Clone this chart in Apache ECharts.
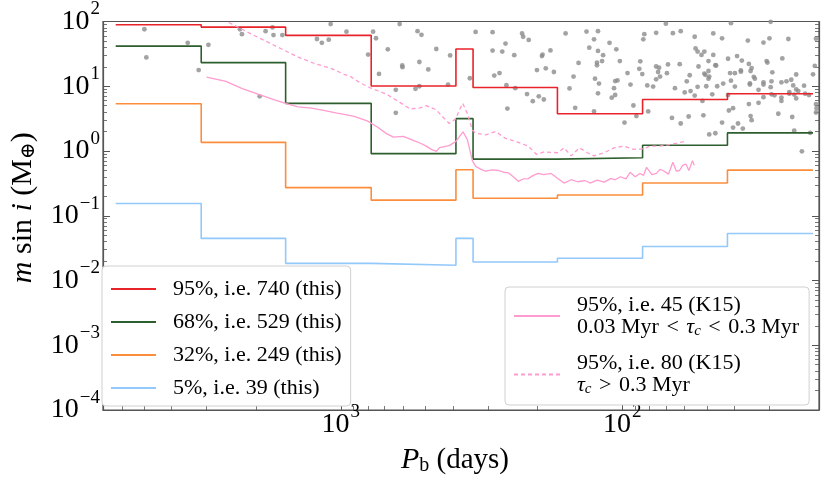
<!DOCTYPE html>
<html><head><meta charset="utf-8">
<script src="https://cdn.jsdelivr.net/npm/echarts@6/dist/echarts.min.js"></script>
<style>html,body{margin:0;padding:0;background:#fff}#c{width:830px;height:481px}</style>
</head><body><div id="c"></div>
<script>
// Bin edges of the step curves (orbital period, days)
const binEdges = [6310, 3134, 1571, 780, 390, 339, 170, 84.7, 42.3, 21.0];
// Upper limits (m sin i, Earth masses) per bin
const lim95 = [89, 82, 61, 10.1, 37.6, 9.55, 3.76, 6.24, 7.67];
const lim68 = [41.7, 23.2, 5.43, 0.91, 3.16, 0.75, 0.785, 1.23, 1.905];
const lim32 = [5.37, 1.36, 0.272, 0.174, 0.513, 0.186, 0.209, 0.32, 0.507];
const lim05 = [0.155, 0.0447, 0.0184, 0.0172, 0.0447, 0.0193, 0.0221, 0.0335, 0.0531];

// K15 curves [P (days), m sin i]
const k15Young = [[3000,13.8],[2560,11.9],[2240,9.2],[1960,7.5],[1710,6.1],[1560,5.4],[1420,4.8],[1270,4.6],[1140,4.2],[1030,3.85],[973,3.67],[897,3.42],[806,2.92],[744,2.37],[686,1.84],[650,1.64],[600,1.68],[553,1.46],[524,1.33],[497,1.19],[477,1.06],[458,0.99],[446,1.13],[412,1.21],[390,1.41],[375,1.78],[368,1.97],[355,1.49],[341,0.71],[332,0.58],[318,0.52],[306,0.49],[290,0.51],[275,0.50],[264,0.47],[254,0.46],[244,0.40],[234,0.34],[225,0.37],[216,0.375],[207,0.42],[199,0.45],[190,0.43],[179,0.45],[170,0.38],[161,0.32],[152,0.36],[144,0.335],[136,0.35],[129.5,0.32],[126,0.34],[122.7,0.355],[116,0.33],[110,0.375],[106,0.36],[101.6,0.40],[97,0.37],[93.8,0.47],[90,0.40],[86.5,0.45],[84,0.42],[82,0.56],[78.5,0.43],[75.6,0.45],[73.5,0.52],[71.7,0.50],[68.5,0.44],[66.1,0.67],[64.3,0.49],[62.6,0.50],[61,0.60],[59.4,0.63],[58,0.50],[56.3,0.71],[55.5,0.60]];
const k15Old = [[2500,96.6],[2120,66.7],[1855,50.1],[1623,37.6],[1418,28.2],[1239,22.4],[1084,18.9],[973,15.3],[923,14.1],[851,11.2],[785,9.45],[686,7.5],[617,5.63],[568,4.47],[524,4.62],[497,5.01],[458,4.32],[434,3.35],[412,2.66],[390,3.16],[380,4.21],[369,5.44],[355,3.76],[341,2.11],[332,1.88],[306,1.78],[282,2.0],[261,1.58],[240,1.41],[216,1.19],[202,0.89],[189,0.97],[169.5,0.94],[161,1.12],[152,0.84],[142,1.12],[133,0.94],[126,0.84],[116,0.94],[107,1.12],[99,1.19],[91.3,1.06],[84.2,1.08],[79.8,1.19],[73.6,1.19],[67.9,1.26],[59.4,1.41]];

// Known planets [P (days), m sin i]
const planets = [[4990,75.9],[4910,27.9],[3500,46.8],[2955,43.7],[3200,17.8],[2283,75.9],[2246,63.8],[1851,70.8],[1749,81],[1735,61.7],[1614,61.7],[1943,7.0],
[1087,91.1],[618,91.1],[955,69.6],[768,69.6],[750,55.1],[1216,53.7],[1168,46.8],[1104,52.4],[800,30.9],[681,37.2],[732,15.5],[605,20.9],[604,19.7],[534,70.8],[517,62.3],[526,23.7],[489,18.2],[458,37.6],[409,29.9],[638,8.82],[543,9.14],[526,10.0],[416,10.6],[638,3.89],[348,13.3],[332,69.1],[289,68.4],[289,35.5],[267,34.3],[260,45.6],[242,30.2],[227,65.4],[225,58.1],[215,51.9],[285,14.6],[273,16.0],[258,10.4],[240,9.34],[218,7.57],[208,5.89],[198,7.0],[190,6.24],[256,4.52],[193,29.2],[192,30.9],[180,35.8],[201,17.8],[187,18.9],[175,16.6],
[159,65.4],[134,70.0],[122,70.8],[126,53.1],[131,39.4],[122,35.1],[117,30.2],[123,23.2],[123,21.1],[118,24.5],[143,22.9],[149,14.1],[154,9.24],[147,4.65],[125,13.1],[121,11.0],[122,7.77],[126,4.08],[111,46.8],[105,37.2],[102,24.5],[106,12.0],[104,12.3],[107,9.34],[109,6.67],[106,7.33],[95.8,16.0],[93.5,10.6],[98.2,2.75],[91.3,5.04],[89.1,3.46],[83.5,63.8],[84.2,53.1],[86.3,24.3],[87.0,18.6],[84.9,15.4],[81.5,10.3],[77.7,9.9],[80.9,4.08],[75.8,66.8],[75.8,20.2],[74.0,19.3],[74.6,16.6],[75.8,12.8],[73.4,14.1],[69.4,15.9],[68.8,21.7],[70.0,92.4],[66.1,66.1],[62.0,70.8],[62.5,21.9],[65.0,9.34],[66.6,3.24],[62.0,2.66],[60.0,8.04],[59.0,11.9],[57.6,14.8],[57.2,8.42],[58.1,3.41],[55.3,58.1],[54.9,38.4],[54.0,34.3],[53.6,20.2],[54.0,9.8],[55.3,7.17],[52.3,30.5],[51.1,34.3],[51.9,5.93],[51.5,3.55],[50.3,10.0],[50.7,15.0],[51.1,15.7],[49.4,24.5],[49.4,17.2],[49.1,14.1],[49.4,13.1],[47.5,65.4],[47.5,30.5],[46.7,21.1],[47.9,7.5],[46.4,20.9],[46.0,10.0],[46.7,1.88],[49.1,1.8],[44.2,55.0],[43.8,11.0],[42.1,26.6],[41.4,16.0],[42.1,7.33],[44.2,2.75],[41.8,4.22],[41.1,12.2],[41.1,94.3],[40.4,4.59],[40.4,2.3],[39.8,15.9],[39.8,9.9],[39.1,29.2],[37.9,16.8],[37.9,17.6],[37.6,24.9],[38.8,2.66],[37.3,2.22],[35.8,50.7],[35.5,22.1],[34.7,19.1],[35.0,17.2],[35.5,5.31],[35.2,11.1],[35.2,10.6],[35.0,3.46],[34.7,2.99],[34.1,14.0],[33.8,13.1],[32.8,8.82],[32.8,5.55],[31.5,47.3],[30.0,55.0],[29.7,98.9],[30.7,24.5],[30.5,23.2],[31.5,11.5],[31.5,10.6],[31.5,6.77],[29.7,9.66],[29.5,11.9],[29.3,16.4],[29.5,7.5],[28.8,7.25],[27.9,3.76],[27.0,26.9],[27.2,11.5],[27.2,6.69],[27.2,5.93],[26.1,11.9],[25.7,53.7],[25.5,7.69],[25.5,8.12],[25.1,12.6],[24.9,3.35],[24.7,10.3],[24.5,2.06],[24.5,7.43],[24.1,6.48],[24.1,8.92],[24.1,15.2],[23.7,8.42],[23.0,0.99],[22.6,10.2],[22.4,7.69],[21.5,1.91],[21.7,7.33],[21.0,15.3],[20.7,20.6],[20.5,54.3],[20.4,4.59],[20.5,3.93],[20.5,5.31]];

// Axis ranges and ticks
const xRange = [20, 7000];
const yRange = [1e-4, 1e2];
const xMajor = [100, 1000];
const xMinor = [30,40,50,60,70,80,90,200,300,400,500,600,700,800,900,2000,3000,4000,5000,6000];
const yMajor = [1e-4,1e-3,1e-2,1e-1,1,10,100];
const yMinor = [];
for (let e = -4; e < 2; e++) for (let k = 2; k < 10; k++) yMinor.push(k * Math.pow(10, e));

const seriesNames = ['95%, i.e. 740 (this)', '68%, i.e. 529 (this)', '32%, i.e. 249 (this)', '5%, i.e. 39 (this)'];
const k15Names = ['K15young', 'K15old'];

const L = Math.log10;
const FONT = "'Liberation Serif', 'DejaVu Serif', serif";
function stepData(vals) {
  const d = vals.map((v, i) => [L(binEdges[i]), L(v)]);
  d.push([L(binEdges[binEdges.length - 1]), L(vals[vals.length - 1])]);
  return d;
}
const logPairs = arr => arr.map(p => [L(p[0]), L(p[1])]);

const supFmt = v => {
  const e = Math.round(v);
  return '{b|10}{s|' + (e < 0 ? '\u2212' + (-e) : e) + '}';
};
const tickRich = {
  b: { fontFamily: FONT, fontSize: 28, color: '#000' },
  s: { fontFamily: FONT, fontSize: 19, color: '#000', padding: [0, 0, 24, 1] }
};
const AX = '#555';

function axisPair(kind, pos, majors, minors, range, withLabels, extra) {
  const base = Object.assign({
    type: 'value', position: pos, min: L(range[0]), max: L(range[1]),
    splitLine: { show: false }
  }, extra || {});
  const major = Object.assign({}, base, {
    axisLine: { show: true, onZero: false, lineStyle: { color: AX, width: 1.2 } },
    axisTick: { show: true, inside: true, length: 7, customValues: majors.map(L), lineStyle: { color: AX, width: 1 } },
    axisLabel: withLabels ? { show: true, customValues: majors.map(L), formatter: supFmt, rich: tickRich, margin: kind === 'x' ? -7 : 3 } : { show: false }
  });
  const minor = Object.assign({}, base, {
    name: '',
    axisLine: { show: false, onZero: false },
    axisTick: { show: true, inside: true, length: 4, customValues: minors.map(L), lineStyle: { color: AX, width: 0.8 } },
    axisLabel: { show: false }
  });
  return [major, minor];
}

const nameRich = {
  i: { fontFamily: FONT, fontSize: 30, fontStyle: 'italic', color: '#000' },
  i0: { fontFamily: FONT, fontSize: 30, fontStyle: 'italic', color: '#000', padding: [0, 0, 0, 16] },
  sub: { fontFamily: FONT, fontSize: 20, color: '#000', padding: [12, 0, 0, 0] },
  r: { fontFamily: FONT, fontSize: 30, color: '#000' },
  rEnd: { fontFamily: FONT, fontSize: 29, color: '#000', padding: [0, 12, 0, 0] }
};
const xAxes = axisPair('x', 'bottom', xMajor, xMinor, xRange, true, {
  inverse: true, name: '{i|P}{sub|b}{rEnd| (days)}', nameLocation: 'middle', nameGap: 34,
  nameTextStyle: { rich: nameRich }
});
const yLeft = axisPair('y', 'left', yMajor, yMinor, yRange, true, {
  name: '{i0|m}{r| sin }{i|i}{r| (M}{sub|\u2295}{r|)}', nameLocation: 'middle', nameGap: 64, nameRotate: 90,
  nameTextStyle: { rich: nameRich }
});
const yRight = axisPair('y', 'right', yMajor, yMinor, yRange, false, {});

const stepColors = ['#e8232a', '#2d5e2d', '#fb8d3c', '#93c8fb'];
const stepVals = [lim95, lim68, lim32, lim05];
const PINK = '#ff9ccf';

const series = [{
  type: 'scatter', name: 'planets', data: logPairs(planets), symbolSize: 4.8,
  itemStyle: { color: '#8c8c8c' }, z: 1, silent: true
}];
stepVals.forEach((vals, i) => series.push({
  type: 'line', name: seriesNames[i], data: stepData(vals), step: 'end', symbol: 'none',
  lineStyle: { color: stepColors[i], width: 1.6 }, itemStyle: { color: stepColors[i] }, z: 3, silent: true
}));
series.push({
  type: 'line', name: k15Names[0], data: logPairs(k15Young), symbol: 'none',
  lineStyle: { color: PINK, width: 1.3 }, itemStyle: { color: PINK }, z: 4, silent: true
});
series.push({
  type: 'line', name: k15Names[1], data: logPairs(k15Old), symbol: 'none',
  lineStyle: { color: PINK, width: 1.3, type: [4, 3] }, itemStyle: { color: PINK }, z: 4, silent: true
});

const legendText = { fontFamily: FONT, fontSize: 22, color: '#000', padding: [0, 0, 0, 12] };
const chart = echarts.init(document.getElementById('c'), null, { renderer: 'canvas' });
chart.setOption({
  animation: false,
  backgroundColor: '#fff',
  grid: { left: 92, right: 11, top: 15, bottom: 66, show: true, borderColor: AX, borderWidth: 1.2, backgroundColor: 'transparent' },
  xAxis: xAxes,
  yAxis: [yLeft[0], yLeft[1], yRight[0], yRight[1]],
  legend: [{
    data: seriesNames, orient: 'vertical', left: 102, top: 266, itemWidth: 45, itemHeight: 10, itemGap: 9,
    padding: [11, 9, 6, 8], backgroundColor: '#fff', borderColor: '#d0d0d0', borderWidth: 1, borderRadius: 4,
    itemStyle: { opacity: 0 },
    textStyle: Object.assign({}, legendText, { lineHeight: 24 }), selectedMode: false
  }, {
    data: k15Names, orient: 'vertical', left: 505, top: 287, itemWidth: 46, itemHeight: 10, itemGap: 14,
    padding: [7, 10, 8, 8], backgroundColor: '#fff', borderColor: '#d0d0d0', borderWidth: 1, borderRadius: 4,
    itemStyle: { opacity: 0 },
    selectedMode: false,
    formatter: n => n === k15Names[0]
      ? '95%, i.e. 45 (K15)\n0.03 Myr {r|<} {it|\u03c4}{sub|c} {r|<} 0.3 Myr'
      : '95%, i.e. 80 (K15)\n{it|\u03c4}{sub|c} {r|>} 0.3 Myr',
    textStyle: Object.assign({}, legendText, { lineHeight: 22, rich: {
      it: { fontFamily: FONT, fontSize: 22, fontStyle: 'italic', color: '#000' },
      r: { fontFamily: FONT, fontSize: 22, color: '#000', padding: [0, 2, 0, 2] },
      sub: { fontFamily: FONT, fontSize: 15, fontStyle: 'italic', color: '#000', padding: [8, 0, 0, 0] }
    } })
  }],
  series: series.map(s => Object.assign(s, { xAxisIndex: 0, yAxisIndex: 0 }))
});
</script></body></html>
